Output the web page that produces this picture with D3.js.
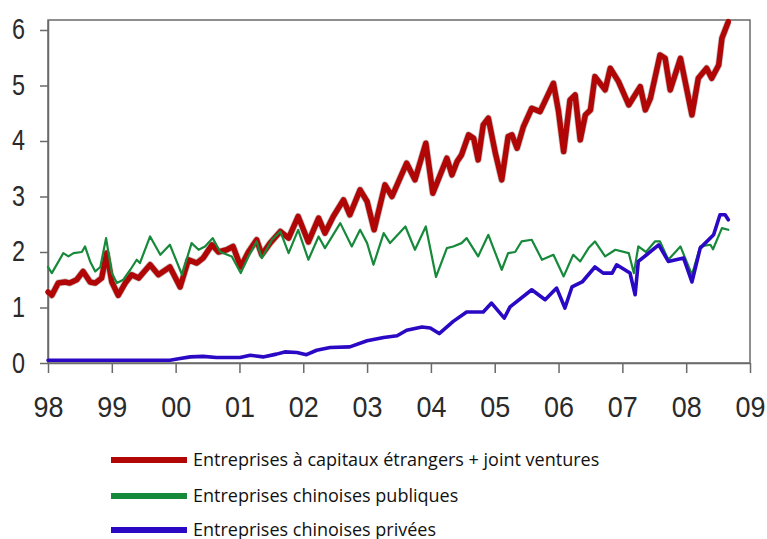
<!DOCTYPE html>
<html>
<head>
<meta charset="utf-8">
<script src="https://cdn.jsdelivr.net/npm/d3@7"></script>
<style>
  body { margin: 0; background: #fff; }
  svg { display: block; }
</style>
</head>
<body>
<svg id="chart" width="767" height="539"></svg>
<script>
// x tick labels (years) and y ticks
var yearTicks = [1998, 1999, 2000, 2001, 2002, 2003, 2004, 2005, 2006, 2007, 2008, 2009];
var yearLabels = ['98', '99', '00', '01', '02', '03', '04', '05', '06', '07', '08', '09'];
var valueTicks = [0, 1, 2, 3, 4, 5, 6];

// Entreprises a capitaux etrangers + joint ventures (red)
var foreignT = [1998.00, 1998.06, 1998.16, 1998.27, 1998.34, 1998.45, 1998.55, 1998.66, 1998.74, 1998.84, 1998.92,
    1999.00, 1999.10, 1999.21, 1999.31, 1999.42, 1999.60, 1999.73, 1999.91, 2000.07, 2000.20, 2000.33, 2000.43,
    2000.57, 2000.67, 2000.80, 2000.90, 2001.02, 2001.14, 2001.27, 2001.35, 2001.48, 2001.64, 2001.77, 2001.92,
    2002.08, 2002.24, 2002.34, 2002.47, 2002.63, 2002.73, 2002.89, 2003.00, 2003.11, 2003.28, 2003.39, 2003.62,
    2003.75, 2003.92, 2004.03, 2004.25, 2004.33, 2004.41, 2004.48, 2004.59, 2004.67, 2004.74, 2004.82, 2004.90,
    2005.01, 2005.11, 2005.21, 2005.27, 2005.35, 2005.45, 2005.58, 2005.71, 2005.92, 2006.00, 2006.08, 2006.18,
    2006.26, 2006.34, 2006.42, 2006.50, 2006.57, 2006.73, 2006.81, 2006.94, 2007.10, 2007.28, 2007.36, 2007.44,
    2007.59, 2007.67, 2007.75, 2007.91, 2008.09, 2008.19, 2008.32, 2008.40, 2008.51, 2008.56, 2008.66];
var foreignV = [1.28, 1.22, 1.44, 1.46, 1.44, 1.50, 1.65, 1.46, 1.44, 1.53, 1.98,
    1.46, 1.22, 1.44, 1.59, 1.53, 1.77, 1.59, 1.73, 1.37, 1.86, 1.80, 1.89,
    2.13, 2.00, 2.04, 2.10, 1.73, 2.00, 2.22, 1.95, 2.16, 2.37, 2.25, 2.64,
    2.18, 2.61, 2.34, 2.64, 2.94, 2.67, 3.12, 2.91, 2.40, 3.21, 3.00, 3.60,
    3.30, 3.96, 3.06, 3.69, 3.39, 3.63, 3.75, 4.11, 4.05, 3.66, 4.29, 4.41,
    3.78, 3.30, 4.08, 4.11, 3.87, 4.26, 4.59, 4.53, 5.04, 4.53, 3.81, 4.74,
    4.83, 4.02, 4.47, 4.56, 5.16, 4.92, 5.31, 5.07, 4.65, 4.98, 4.56, 4.77,
    5.55, 5.49, 4.92, 5.49, 4.47, 5.13, 5.31, 5.13, 5.37, 5.85, 6.15];

// Entreprises chinoises publiques (green)
var publicT = [1998.00, 1998.06, 1998.24, 1998.32, 1998.40, 1998.53, 1998.58, 1998.66, 1998.74, 1998.82, 1998.91,
    1999.00, 1999.08, 1999.18, 1999.29, 1999.39, 1999.44, 1999.60, 1999.76, 1999.91, 2000.10, 2000.25, 2000.36,
    2000.46, 2000.58, 2000.70, 2000.88, 2001.02, 2001.14, 2001.27, 2001.35, 2001.51, 2001.64, 2001.77, 2001.92,
    2002.08, 2002.24, 2002.34, 2002.58, 2002.76, 2002.89, 2003.00, 2003.10, 2003.26, 2003.36, 2003.60, 2003.75,
    2003.92, 2004.08, 2004.25, 2004.35, 2004.48, 2004.56, 2004.74, 2004.90, 2005.11, 2005.21, 2005.32, 2005.42,
    2005.58, 2005.74, 2005.92, 2006.08, 2006.23, 2006.34, 2006.47, 2006.57, 2006.73, 2006.89, 2007.10, 2007.18,
    2007.25, 2007.37, 2007.51, 2007.59, 2007.72, 2007.91, 2008.09, 2008.22, 2008.38, 2008.42, 2008.56, 2008.66];
var publicV = [1.73, 1.62, 1.98, 1.92, 1.98, 2.00, 2.10, 1.83, 1.65, 1.73, 2.25,
    1.62, 1.44, 1.50, 1.68, 1.86, 1.80, 2.28, 1.95, 2.13, 1.59, 2.16, 2.04,
    2.10, 2.25, 2.00, 1.92, 1.62, 1.92, 2.19, 1.89, 2.22, 2.37, 1.98, 2.40,
    1.86, 2.28, 2.07, 2.52, 2.10, 2.40, 2.16, 1.77, 2.34, 2.16, 2.46, 2.04,
    2.46, 1.55, 2.07, 2.10, 2.16, 2.25, 1.92, 2.31, 1.68, 1.98, 2.00, 2.19,
    2.22, 1.86, 1.95, 1.56, 1.95, 1.83, 2.07, 2.19, 1.92, 2.04, 1.98, 1.62,
    2.10, 2.00, 2.19, 2.19, 1.86, 2.10, 1.59, 2.10, 2.13, 2.05, 2.43, 2.40];

// Entreprises chinoises privees (blue)
var privateT = [1998.00, 1999.91, 2000.07, 2000.23, 2000.43, 2000.64, 2001.01, 2001.17, 2001.37, 2001.58, 2001.71,
    2001.90, 2002.05, 2002.21, 2002.42, 2002.73, 2003.00, 2003.26, 2003.47, 2003.62, 2003.86, 2003.99, 2004.13,
    2004.35, 2004.56, 2004.82, 2004.95, 2005.15, 2005.24, 2005.58, 2005.79, 2005.97, 2006.10, 2006.21, 2006.37,
    2006.57, 2006.70, 2006.84, 2006.91, 2007.12, 2007.20, 2007.25, 2007.38, 2007.57, 2007.72, 2007.96, 2008.09,
    2008.22, 2008.43, 2008.53, 2008.61, 2008.66];
var privateV = [0.05, 0.05, 0.08, 0.11, 0.12, 0.10, 0.10, 0.14, 0.11, 0.16, 0.20,
    0.19, 0.15, 0.23, 0.28, 0.29, 0.40, 0.46, 0.49, 0.59, 0.65, 0.63, 0.53,
    0.75, 0.92, 0.92, 1.08, 0.81, 1.01, 1.32, 1.14, 1.35, 0.99, 1.37, 1.46,
    1.73, 1.62, 1.62, 1.77, 1.62, 1.23, 1.83, 1.95, 2.13, 1.83, 1.89, 1.46,
    2.07, 2.31, 2.67, 2.67, 2.58];

var legendNames = ['Entreprises à capitaux étrangers + joint ventures',
                   'Entreprises chinoises publiques',
                   'Entreprises chinoises privées'];
var colors = ['#b00606', '#17893a', '#2a08c4'];
var widths = [5.5, 2.2, 3.6];

var svg = d3.select('#chart');
var x = d3.scaleLinear().domain([1998, 2009]).range([48, 750]);
var y = d3.scaleLinear().domain([0, 6.18]).range([363, 20]);

// plot frame
svg.append('rect')
    .attr('x', x(1998)).attr('y', y(6.18))
    .attr('width', x(2009) - x(1998)).attr('height', y(0) - y(6.18))
    .attr('fill', 'none').attr('stroke', '#6a6a6a').attr('stroke-width', 1.5);

// y axis
var yAxis = svg.append('g')
    .attr('transform', 'translate(' + x(1998) + ',0)')
    .call(d3.axisLeft(y).tickValues(valueTicks).tickSize(8).tickSizeOuter(0).tickPadding(15)
        .tickFormat(d3.format('d')));
yAxis.select('.domain').attr('stroke', '#6a6a6a').attr('stroke-width', 1.5);
yAxis.selectAll('line').attr('stroke', '#6a6a6a').attr('stroke-width', 1.5);
yAxis.selectAll('text')
    .attr('font-family', 'Liberation Sans, Arial, sans-serif')
    .attr('font-size', 30).attr('fill', '#2a2a2a')
    .attr('dy', '0.3em')
    .attr('textLength', 13).attr('lengthAdjust', 'spacingAndGlyphs');

// x axis
var xAxis = svg.append('g')
    .attr('transform', 'translate(0,' + y(0) + ')')
    .call(d3.axisBottom(x).tickValues(yearTicks).tickSize(10).tickSizeOuter(0).tickPadding(8)
        .tickFormat(function(d, i){ return yearLabels[i]; }));
xAxis.select('.domain').attr('stroke', '#6a6a6a').attr('stroke-width', 1.5);
xAxis.selectAll('line').attr('stroke', '#6a6a6a').attr('stroke-width', 1.5);
xAxis.selectAll('text')
    .attr('font-family', 'Liberation Sans, Arial, sans-serif')
    .attr('font-size', 30).attr('fill', '#2a2a2a')
    .attr('y', 54).attr('dy', 0)
    .attr('textLength', 30).attr('lengthAdjust', 'spacingAndGlyphs');

// series lines
var series = [
    {t: foreignT, v: foreignV},
    {t: publicT, v: publicV},
    {t: privateT, v: privateV}
];
var line = d3.line()
    .x(function(d){ return x(d[0]); })
    .y(function(d){ return y(d[1]); });

// soft grey halo under the red line, like the original's blurred edges
svg.append('path')
    .datum(d3.zip(foreignT, foreignV))
    .attr('d', line)
    .attr('fill', 'none').attr('stroke', '#9a8a8a').attr('stroke-opacity', 0.55)
    .attr('stroke-width', 7).attr('stroke-linejoin', 'round');

series.forEach(function(s, i) {
    svg.append('path')
        .datum(d3.zip(s.t, s.v))
        .attr('d', line)
        .attr('fill', 'none')
        .attr('stroke', colors[i])
        .attr('stroke-width', widths[i])
        .attr('stroke-linejoin', 'round')
        .attr('stroke-linecap', 'round');
});

// legend
var legend = svg.append('g');
var legendY = [460, 496, 530];
legendNames.forEach(function(name, i) {
    legend.append('line')
        .attr('x1', 111).attr('x2', 187)
        .attr('y1', legendY[i]).attr('y2', legendY[i])
        .attr('stroke', colors[i]).attr('stroke-width', 6);
    legend.append('text')
        .attr('x', 193).attr('y', legendY[i] + 6)
        .attr('font-family', 'Open Sans, Noto Sans, sans-serif')
        .attr('font-size', 18).attr('fill', '#111')
        .text(name);
});
</script>
</body>
</html>
